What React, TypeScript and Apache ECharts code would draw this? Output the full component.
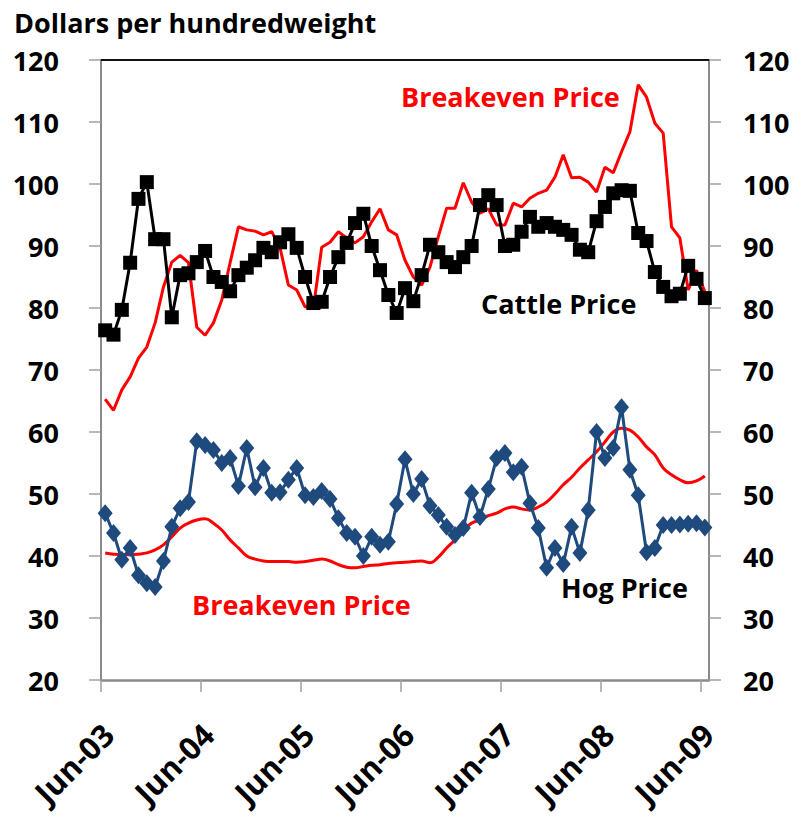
import React, { useEffect, useRef } from "react";
import * as echarts from "echarts";

const tickLabels = ["Jun-03", "Jun-04", "Jun-05", "Jun-06", "Jun-07", "Jun-08", "Jun-09"];
const tickMonths = [0, 12, 24, 36, 48, 60, 72];
const yTicks = [20, 30, 40, 50, 60, 70, 80, 90, 100, 110, 120];

// Monthly values, Jun-03 .. Jun-09 (73 months)
const cattlePrice = [
  76.4, 75.7, 79.7, 87.3, 97.6, 100.3, 91.1, 91.1, 78.5, 85.3, 85.6, 87.4,
  89.2, 85.0, 84.2, 82.7, 85.3, 86.5, 87.7, 89.7, 89.0, 90.6, 91.9, 89.7,
  85.0, 80.8, 81.0, 85.0, 88.2, 90.5, 93.7, 95.2, 90.0, 86.1, 82.1, 79.2,
  83.2, 81.1, 85.3, 90.2, 89.0, 87.4, 86.6, 88.2, 90.0, 96.6, 98.2, 96.6,
  90.0, 90.2, 92.3, 94.7, 93.1, 93.7, 93.1, 92.6, 91.8, 89.4, 89.0, 94.0,
  96.3, 98.5, 99.0, 98.9, 92.1, 90.8, 85.8, 83.4, 81.9, 82.3, 86.8, 84.7,
  81.6,
];
const cattleBreakeven = [
  65.3, 63.5, 66.8, 68.9, 71.9, 73.7, 77.6, 83.4, 87.4, 88.5, 87.3, 76.9,
  75.6, 77.6, 81.3, 87.3, 93.1, 92.6, 92.4, 91.8, 92.3, 89.7, 83.7, 82.9,
  80.2, 80.0, 89.8, 90.6, 92.3, 91.3, 90.5, 91.5, 93.9, 96.0, 92.6, 91.8,
  87.7, 85.0, 83.7, 86.6, 91.5, 96.1, 96.1, 100.2, 97.1, 95.3, 96.0, 93.4,
  93.4, 96.9, 96.3, 97.7, 98.5, 99.0, 101.1, 104.7, 101.0, 101.1, 100.3, 98.7,
  102.7, 101.8, 105.2, 108.4, 116.0, 114.0, 109.8, 108.2, 93.1, 91.3, 82.9, 86.1,
  82.6,
];
const hogPrice = [
  46.9, 43.7, 39.4, 41.3, 36.9, 35.6, 35.0, 39.2, 44.7, 47.7, 48.7, 58.5,
  57.9, 57.1, 55.0, 55.8, 51.3, 57.4, 51.1, 54.2, 50.2, 50.3, 52.3, 54.2,
  49.8, 49.5, 50.5, 49.2, 46.1, 43.7, 43.1, 40.0, 43.1, 41.8, 42.3, 48.4,
  55.6, 50.0, 52.4, 48.1, 46.6, 44.7, 43.4, 44.5, 50.2, 46.3, 50.8, 55.8,
  56.6, 53.5, 54.4, 48.5, 44.5, 38.1, 41.3, 38.7, 44.7, 40.5, 47.4, 60.0,
  55.8, 57.4, 64.0, 53.9, 49.8, 40.6, 41.3, 45.0, 45.0, 45.1, 45.2, 45.3,
  44.6,
];
const hogBreakeven = [
  40.5, 40.3, 40.2, 40.2, 40.3, 40.5, 41.0, 41.8, 43.1, 44.5, 45.3, 45.8,
  46.0, 45.3, 44.2, 42.6, 41.3, 40.0, 39.5, 39.2, 39.1, 39.1, 39.1, 39.0,
  39.1, 39.3, 39.5, 39.2, 38.6, 38.2, 38.1, 38.3, 38.5, 38.6, 38.8, 38.9,
  39.0, 39.1, 39.2, 38.9, 39.8, 41.3, 42.6, 44.2, 45.3, 45.8, 46.5, 46.9,
  47.6, 47.9, 47.6, 47.4, 47.9, 48.7, 50.0, 51.5, 52.7, 54.2, 55.5, 56.8,
  58.4, 60.0, 60.6, 60.3, 59.2, 57.6, 56.3, 54.2, 53.1, 52.3, 51.8, 52.1,
  52.9,
];

const FONT = "'Open Sans', 'DejaVu Sans', sans-serif";
const AXIS_GRAY = "#8a8a8a";

export default function App() {
  const ref = useRef<HTMLDivElement>(null);
  useEffect(() => {
    const chart = echarts.init(ref.current as HTMLDivElement, null, { renderer: "svg" });
    const pts = (arr: number[]) => arr.map((v, i) => [i + 0.5, v]);
    const yAxisBase = (position: "left" | "right", margin: number) => ({
      type: "value" as const,
      gridIndex: 0,
      position,
      min: 20,
      max: 120,
      interval: 10,
      axisLine: { show: true, onZero: false, lineStyle: { color: AXIS_GRAY, width: 2 } },
      axisTick: { show: true, length: 12, lineStyle: { color: "#a0a0a0", width: 1.5 } },
      splitLine: { show: false },
      axisLabel: {
        margin,
        fontFamily: FONT,
        fontWeight: "bold" as const,
        fontSize: 27,
        color: "#000",
        formatter: (v: number) => (yTicks.includes(v) ? String(v) : ""),
      },
    });
    chart.setOption({
      animation: false,
      backgroundColor: "#fff",
      grid: [
        { left: 101, right: 93, top: 60, bottom: 138, containLabel: false },
        // label-only grid, offset so the rotated labels end just right of each tick
        { left: 108, right: 94, top: 60, bottom: 138, containLabel: false },
      ],
      xAxis: [
        {
          type: "value",
          gridIndex: 0,
          position: "bottom",
          min: 0,
          max: 73,
          axisLine: { show: true, onZero: false, lineStyle: { color: AXIS_GRAY, width: 2.5 } },
          axisTick: { show: true, length: 12, customValues: tickMonths, lineStyle: { color: "#a0a0a0", width: 1.5 } },
          axisLabel: { show: false },
          splitLine: { show: false },
        },
        {
          type: "value",
          gridIndex: 0,
          position: "top",
          min: 0,
          max: 73,
          axisLine: { show: true, onZero: false, lineStyle: { color: "#111", width: 2 } },
          axisTick: { show: false },
          axisLabel: { show: false },
          splitLine: { show: false },
        },
        {
          type: "value",
          gridIndex: 1,
          position: "bottom",
          min: 0,
          max: 72,
          axisLine: { show: false, onZero: false },
          axisTick: { show: false },
          splitLine: { show: false },
          axisLabel: {
            customValues: tickMonths,
            rotate: 45,
            margin: 49,
            fontFamily: FONT,
            fontWeight: "bold",
            fontSize: 31,
            color: "#000",
            formatter: (v: number) => {
              const k = tickMonths.indexOf(Math.round(v));
              return k >= 0 ? tickLabels[k] : "";
            },
          },
        },
      ],
      yAxis: [
        yAxisBase("left", 42),
        yAxisBase("right", 34),
        { type: "value", gridIndex: 1, show: false, min: 20, max: 120 },
      ],
      series: [
        {
          name: "Cattle Breakeven Price",
          type: "line",
          xAxisIndex: 0,
          yAxisIndex: 0,
          data: pts(cattleBreakeven),
          showSymbol: false,
          symbol: "none",
          lineStyle: { color: "#ff0000", width: 3 },
          z: 2,
        },
        {
          name: "Hog Breakeven Price",
          type: "line",
          xAxisIndex: 0,
          yAxisIndex: 0,
          data: pts(hogBreakeven),
          smooth: 0.4,
          showSymbol: false,
          symbol: "none",
          lineStyle: { color: "#ff0000", width: 3 },
          z: 2,
        },
        {
          name: "Cattle Price",
          type: "line",
          xAxisIndex: 0,
          yAxisIndex: 0,
          data: pts(cattlePrice),
          symbol: "rect",
          symbolSize: 14,
          itemStyle: { color: "#000" },
          lineStyle: { color: "#000", width: 3 },
          z: 3,
        },
        {
          name: "Hog Price",
          type: "line",
          xAxisIndex: 0,
          yAxisIndex: 0,
          data: pts(hogPrice),
          symbol: "diamond",
          symbolSize: [15, 18],
          itemStyle: { color: "#1f4a7e" },
          lineStyle: { color: "#1f4a7e", width: 3 },
          z: 3,
        },
      ],
      graphic: [
        {
          type: "text",
          x: 14,
          y: 22,
          style: { text: "Dollars per hundredweight", font: `bold 27px ${FONT}`, fill: "#000", align: "left", verticalAlign: "middle" },
        },
        {
          type: "text",
          x: 401,
          y: 96,
          style: { text: "Breakeven Price", font: `bold 27px ${FONT}`, fill: "#ff0000", align: "left", verticalAlign: "middle" },
        },
        {
          type: "text",
          x: 481,
          y: 303,
          style: { text: "Cattle Price", font: `bold 27px ${FONT}`, fill: "#000", align: "left", verticalAlign: "middle" },
        },
        {
          type: "text",
          x: 561,
          y: 587,
          style: { text: "Hog Price", font: `bold 27px ${FONT}`, fill: "#000", align: "left", verticalAlign: "middle" },
        },
        {
          type: "text",
          x: 192,
          y: 604,
          style: { text: "Breakeven Price", font: `bold 27px ${FONT}`, fill: "#ff0000", align: "left", verticalAlign: "middle" },
        },
      ],
    });
    return () => chart.dispose();
  }, []);
  return <div ref={ref} style={{ position: "absolute", left: 0, top: 0, width: 802, height: 818 }} />;
}
